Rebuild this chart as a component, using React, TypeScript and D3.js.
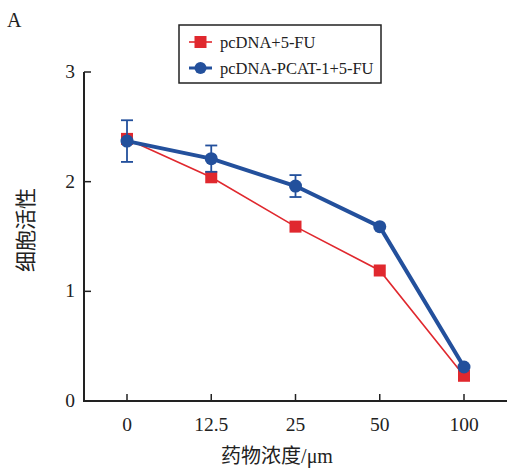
import React from "react";
import * as d3 from "d3";

const categories = ["0", "12.5", "25", "50", "100"];
const redValues = [2.39, 2.04, 1.59, 1.19, 0.23];
const blueValues = [2.37, 2.21, 1.96, 1.59, 0.31];
const blueErrors = [0.19, 0.12, 0.1, 0, 0];
const yTicks = [0, 1, 2, 3];
const seriesNames = ["pcDNA+5-FU", "pcDNA-PCAT-1+5-FU"];

const RED = "#e0282e";
const BLUE = "#23509c";
const AX = "#222";

export default function App() {
  const W = 507, H = 469;
  const x = d3.scalePoint<string>().domain(categories).range([127, 464]);
  const y = d3.scaleLinear().domain([0, 3]).range([401, 72]);
  const line = d3.line<number>().x((_, i) => x(categories[i])!).y((d) => y(d));
  const serif = "'Liberation Serif', 'Times New Roman', serif";
  const cjk = "'Noto Sans CJK SC', sans-serif";
  return (
    <svg width={W} height={H} style={{ position: "absolute", left: 0, top: 0 }}>
      <rect width={W} height={H} fill="#fff" />
      <text x={7} y={27} fontFamily={serif} fontSize={20} fill={AX}>A</text>
      {/* axes */}
      <line x1={84} x2={84} y1={72} y2={402} stroke={AX} strokeWidth={2} />
      <line x1={83} x2={507} y1={401} y2={401} stroke={AX} strokeWidth={2} />
      {yTicks.map((t) => (
        <g key={t}>
          <line x1={84} x2={91} y1={y(t)} y2={y(t)} stroke={AX} strokeWidth={1.5} />
          <text x={75} y={y(t) + 6} textAnchor="end" fontFamily={serif} fontSize={19.5} fill={AX}>{t}</text>
        </g>
      ))}
      {categories.map((c) => (
        <g key={c}>
          <line x1={x(c)} x2={x(c)} y1={401} y2={394} stroke={AX} strokeWidth={1.5} />
          <text x={x(c)} y={431} textAnchor="middle" fontFamily={serif} fontSize={19.5} fill={AX}>{c}</text>
        </g>
      ))}
      <text x={277} y={463} textAnchor="middle" fontSize={20} fill={AX}>
        <tspan fontFamily={cjk}>药物浓度</tspan><tspan fontFamily={serif}>/μm</tspan>
      </text>
      <text transform="translate(33,230) rotate(-90)" textAnchor="middle" fontFamily={cjk} fontSize={21} fill={AX}>细胞活性</text>
      {/* red series */}
      <path d={line(redValues) || ""} fill="none" stroke={RED} strokeWidth={1.6} />
      {redValues.map((v, i) => (
        <rect key={i} x={x(categories[i])! - 6} y={y(v) - 6} width={12} height={12} fill={RED} />
      ))}
      {/* blue series */}
      <path d={line(blueValues) || ""} fill="none" stroke={BLUE} strokeWidth={4} strokeLinejoin="round" />
      {blueValues.map((v, i) => {
        const cx = x(categories[i])!;
        const e = blueErrors[i];
        return (
          <g key={i}>
            {e > 0 && (
              <g stroke={BLUE} strokeWidth={1.8}>
                <line x1={cx} x2={cx} y1={y(v + e)} y2={y(v - e)} />
                <line x1={cx - 6} x2={cx + 6} y1={y(v + e)} y2={y(v + e)} />
                <line x1={cx - 6} x2={cx + 6} y1={y(v - e)} y2={y(v - e)} />
              </g>
            )}
            <circle cx={cx} cy={y(v)} r={6.5} fill={BLUE} />
          </g>
        );
      })}
      {/* legend */}
      <rect x={179} y={25} width={202} height={58} fill="#fff" stroke={AX} strokeWidth={1.5} />
      <line x1={189} x2={212} y1={42} y2={42} stroke={RED} strokeWidth={1.6} />
      <rect x={194.5} y={36} width={12} height={12} fill={RED} />
      <text x={220} y={47.5} fontFamily={serif} fontSize={16.5} fill={AX}>{seriesNames[0]}</text>
      <line x1={189} x2={212} y1={68} y2={68} stroke={BLUE} strokeWidth={3} />
      <circle cx={200.5} cy={68} r={6} fill={BLUE} />
      <text x={220} y={73.5} fontFamily={serif} fontSize={16.5} fill={AX}>{seriesNames[1]}</text>
    </svg>
  );
}
